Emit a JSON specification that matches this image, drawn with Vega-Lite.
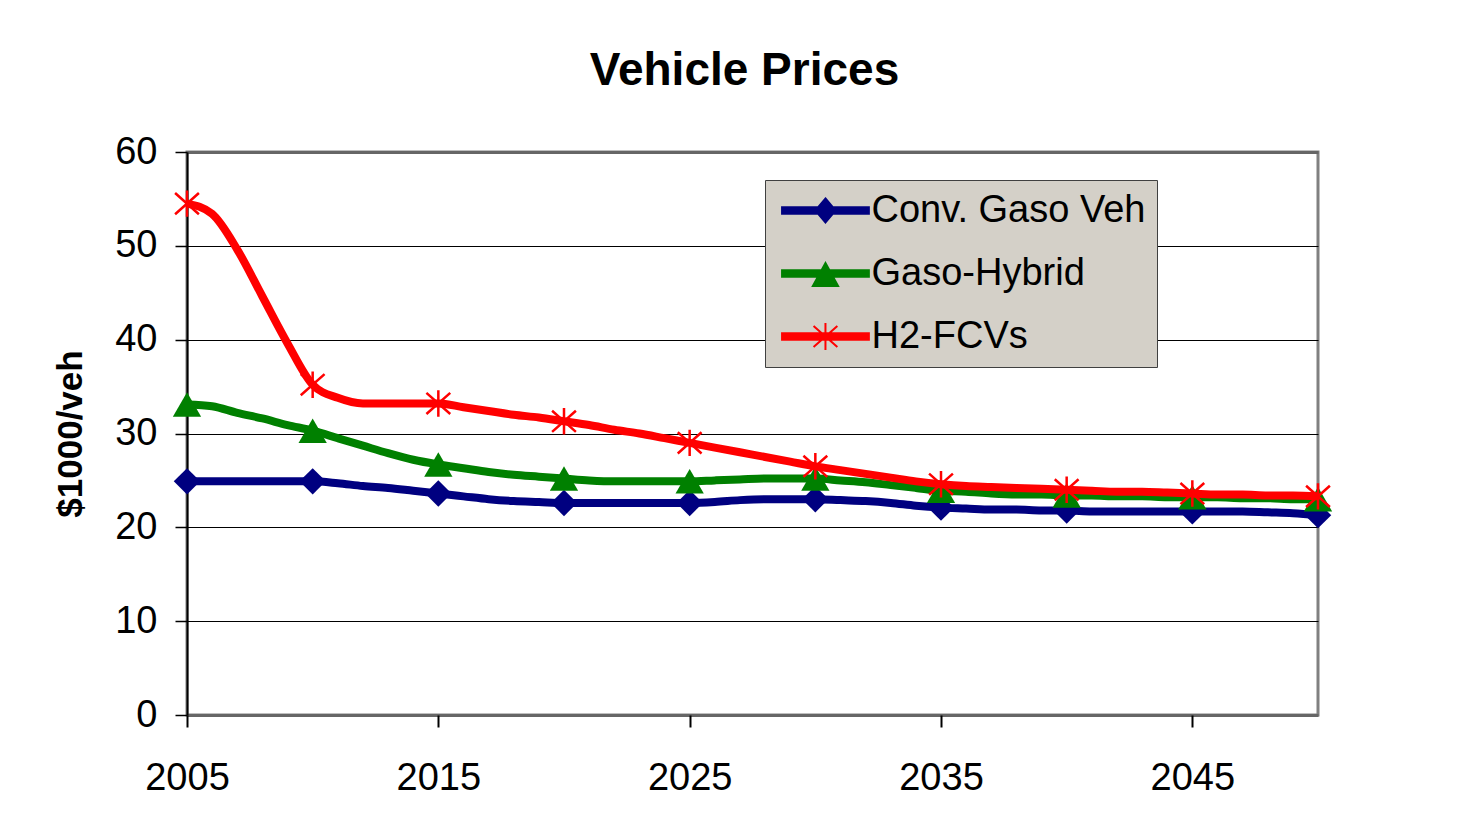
{
  "$schema": "https://vega.github.io/schema/vega-lite/v6.json",
  "autosize": "none",
  "width": 1131,
  "height": 563,
  "padding": {"left": 187, "top": 152, "right": 152, "bottom": 122},
  "background": "#ffffff",
  "title": {"text": "Vehicle Prices", "font": "Liberation Sans", "fontSize": 46, "fontWeight": "bold", "color": "#000000", "anchor": "middle", "frame": "group", "baseline": "alphabetic", "offset": 2, "dx": -8},
  "config": {
    "view": {"stroke": "#808080", "strokeWidth": 3},
    "axis": {"labelFont": "Liberation Sans", "titleFont": "Liberation Sans", "labelColor": "#000000", "titleColor": "#000000"}
  },
  "data": {"values": [
    {"year":2005,"series":"Conv. Gaso Veh","price":24.9},{"year":2006,"series":"Conv. Gaso Veh","price":24.9},{"year":2007,"series":"Conv. Gaso Veh","price":24.9},{"year":2008,"series":"Conv. Gaso Veh","price":24.9},{"year":2009,"series":"Conv. Gaso Veh","price":24.9},{"year":2010,"series":"Conv. Gaso Veh","price":24.9},
    {"year":2011,"series":"Conv. Gaso Veh","price":24.7},{"year":2012,"series":"Conv. Gaso Veh","price":24.4},{"year":2013,"series":"Conv. Gaso Veh","price":24.2},{"year":2014,"series":"Conv. Gaso Veh","price":23.9},{"year":2015,"series":"Conv. Gaso Veh","price":23.6},
    {"year":2016,"series":"Conv. Gaso Veh","price":23.3},{"year":2017,"series":"Conv. Gaso Veh","price":23.0},{"year":2018,"series":"Conv. Gaso Veh","price":22.8},{"year":2019,"series":"Conv. Gaso Veh","price":22.7},{"year":2020,"series":"Conv. Gaso Veh","price":22.6},
    {"year":2021,"series":"Conv. Gaso Veh","price":22.6},{"year":2022,"series":"Conv. Gaso Veh","price":22.6},{"year":2023,"series":"Conv. Gaso Veh","price":22.6},{"year":2024,"series":"Conv. Gaso Veh","price":22.6},{"year":2025,"series":"Conv. Gaso Veh","price":22.6},
    {"year":2026,"series":"Conv. Gaso Veh","price":22.7},{"year":2027,"series":"Conv. Gaso Veh","price":22.9},{"year":2028,"series":"Conv. Gaso Veh","price":23.0},{"year":2029,"series":"Conv. Gaso Veh","price":23.0},{"year":2030,"series":"Conv. Gaso Veh","price":23.0},
    {"year":2031,"series":"Conv. Gaso Veh","price":22.9},{"year":2032,"series":"Conv. Gaso Veh","price":22.8},{"year":2033,"series":"Conv. Gaso Veh","price":22.6},{"year":2034,"series":"Conv. Gaso Veh","price":22.3},{"year":2035,"series":"Conv. Gaso Veh","price":22.1},
    {"year":2036,"series":"Conv. Gaso Veh","price":22.0},{"year":2037,"series":"Conv. Gaso Veh","price":21.9},{"year":2038,"series":"Conv. Gaso Veh","price":21.9},{"year":2039,"series":"Conv. Gaso Veh","price":21.8},{"year":2040,"series":"Conv. Gaso Veh","price":21.8},
    {"year":2041,"series":"Conv. Gaso Veh","price":21.7},{"year":2042,"series":"Conv. Gaso Veh","price":21.7},{"year":2043,"series":"Conv. Gaso Veh","price":21.7},{"year":2044,"series":"Conv. Gaso Veh","price":21.7},{"year":2045,"series":"Conv. Gaso Veh","price":21.7},
    {"year":2046,"series":"Conv. Gaso Veh","price":21.7},{"year":2047,"series":"Conv. Gaso Veh","price":21.7},{"year":2048,"series":"Conv. Gaso Veh","price":21.6},{"year":2049,"series":"Conv. Gaso Veh","price":21.5},{"year":2050,"series":"Conv. Gaso Veh","price":21.3},

    {"year":2005,"series":"Gaso-Hybrid","price":33.1},{"year":2006,"series":"Gaso-Hybrid","price":32.9},{"year":2007,"series":"Gaso-Hybrid","price":32.2},{"year":2008,"series":"Gaso-Hybrid","price":31.6},{"year":2009,"series":"Gaso-Hybrid","price":30.9},{"year":2010,"series":"Gaso-Hybrid","price":30.3},
    {"year":2011,"series":"Gaso-Hybrid","price":29.5},{"year":2012,"series":"Gaso-Hybrid","price":28.7},{"year":2013,"series":"Gaso-Hybrid","price":27.9},{"year":2014,"series":"Gaso-Hybrid","price":27.2},{"year":2015,"series":"Gaso-Hybrid","price":26.7},
    {"year":2016,"series":"Gaso-Hybrid","price":26.3},{"year":2017,"series":"Gaso-Hybrid","price":25.9},{"year":2018,"series":"Gaso-Hybrid","price":25.6},{"year":2019,"series":"Gaso-Hybrid","price":25.4},{"year":2020,"series":"Gaso-Hybrid","price":25.2},
    {"year":2021,"series":"Gaso-Hybrid","price":25.0},{"year":2022,"series":"Gaso-Hybrid","price":24.9},{"year":2023,"series":"Gaso-Hybrid","price":24.9},{"year":2024,"series":"Gaso-Hybrid","price":24.9},{"year":2025,"series":"Gaso-Hybrid","price":24.9},
    {"year":2026,"series":"Gaso-Hybrid","price":25.0},{"year":2027,"series":"Gaso-Hybrid","price":25.1},{"year":2028,"series":"Gaso-Hybrid","price":25.2},{"year":2029,"series":"Gaso-Hybrid","price":25.2},{"year":2030,"series":"Gaso-Hybrid","price":25.2},
    {"year":2031,"series":"Gaso-Hybrid","price":25.0},{"year":2032,"series":"Gaso-Hybrid","price":24.8},{"year":2033,"series":"Gaso-Hybrid","price":24.5},{"year":2034,"series":"Gaso-Hybrid","price":24.2},{"year":2035,"series":"Gaso-Hybrid","price":23.9},
    {"year":2036,"series":"Gaso-Hybrid","price":23.8},{"year":2037,"series":"Gaso-Hybrid","price":23.6},{"year":2038,"series":"Gaso-Hybrid","price":23.5},{"year":2039,"series":"Gaso-Hybrid","price":23.5},{"year":2040,"series":"Gaso-Hybrid","price":23.4},
    {"year":2041,"series":"Gaso-Hybrid","price":23.4},{"year":2042,"series":"Gaso-Hybrid","price":23.3},{"year":2043,"series":"Gaso-Hybrid","price":23.3},{"year":2044,"series":"Gaso-Hybrid","price":23.2},{"year":2045,"series":"Gaso-Hybrid","price":23.2},
    {"year":2046,"series":"Gaso-Hybrid","price":23.2},{"year":2047,"series":"Gaso-Hybrid","price":23.1},{"year":2048,"series":"Gaso-Hybrid","price":23.1},{"year":2049,"series":"Gaso-Hybrid","price":23.0},{"year":2050,"series":"Gaso-Hybrid","price":23.0},

    {"year":2005,"series":"H2-FCVs","price":54.5},{"year":2006,"series":"H2-FCVs","price":53.4},{"year":2007,"series":"H2-FCVs","price":49.6},{"year":2008,"series":"H2-FCVs","price":44.6},{"year":2009,"series":"H2-FCVs","price":39.6},{"year":2010,"series":"H2-FCVs","price":35.2},
    {"year":2011,"series":"H2-FCVs","price":33.8},{"year":2012,"series":"H2-FCVs","price":33.2},{"year":2013,"series":"H2-FCVs","price":33.2},{"year":2014,"series":"H2-FCVs","price":33.2},{"year":2015,"series":"H2-FCVs","price":33.2},
    {"year":2016,"series":"H2-FCVs","price":32.8},{"year":2017,"series":"H2-FCVs","price":32.4},{"year":2018,"series":"H2-FCVs","price":32.0},{"year":2019,"series":"H2-FCVs","price":31.7},{"year":2020,"series":"H2-FCVs","price":31.3},
    {"year":2021,"series":"H2-FCVs","price":30.9},{"year":2022,"series":"H2-FCVs","price":30.4},{"year":2023,"series":"H2-FCVs","price":30.0},{"year":2024,"series":"H2-FCVs","price":29.5},{"year":2025,"series":"H2-FCVs","price":29.0},
    {"year":2026,"series":"H2-FCVs","price":28.5},{"year":2027,"series":"H2-FCVs","price":28.0},{"year":2028,"series":"H2-FCVs","price":27.5},{"year":2029,"series":"H2-FCVs","price":27.0},{"year":2030,"series":"H2-FCVs","price":26.5},
    {"year":2031,"series":"H2-FCVs","price":26.1},{"year":2032,"series":"H2-FCVs","price":25.7},{"year":2033,"series":"H2-FCVs","price":25.3},{"year":2034,"series":"H2-FCVs","price":24.9},{"year":2035,"series":"H2-FCVs","price":24.6},
    {"year":2036,"series":"H2-FCVs","price":24.4},{"year":2037,"series":"H2-FCVs","price":24.3},{"year":2038,"series":"H2-FCVs","price":24.2},{"year":2039,"series":"H2-FCVs","price":24.1},{"year":2040,"series":"H2-FCVs","price":24.0},
    {"year":2041,"series":"H2-FCVs","price":23.9},{"year":2042,"series":"H2-FCVs","price":23.8},{"year":2043,"series":"H2-FCVs","price":23.8},{"year":2044,"series":"H2-FCVs","price":23.7},{"year":2045,"series":"H2-FCVs","price":23.6},
    {"year":2046,"series":"H2-FCVs","price":23.5},{"year":2047,"series":"H2-FCVs","price":23.5},{"year":2048,"series":"H2-FCVs","price":23.4},{"year":2049,"series":"H2-FCVs","price":23.4},{"year":2050,"series":"H2-FCVs","price":23.3}
  ]},
  "encoding": {
    "x": {"field": "year", "type": "quantitative",
      "scale": {"domain": [2005, 2050], "nice": false, "zero": false},
      "axis": {"title": null, "values": [2005, 2015, 2025, 2035, 2045], "format": "d", "domain": false, "grid": false,
        "tickColor": "#000000", "tickSize": 12, "tickWidth": 2, "labelFontSize": 38, "labelPadding": 32, "labelFlush": false}},
    "y": {"field": "price", "type": "quantitative",
      "scale": {"domain": [0, 60], "nice": false},
      "axis": {"title": "$1000/veh", "titleFontSize": 35, "titleFontWeight": "bold", "titlePadding": 26,
        "values": [0, 10, 20, 30, 40, 50, 60], "domainColor": "#000000", "domainWidth": 2,
        "tickColor": "#000000", "tickSize": 12, "tickWidth": 1.5, "labelFontSize": 38, "labelPadding": 18,
        "gridColor": {"condition": {"test": "datum.value === 60 || datum.value === 0", "value": "#666666"}, "value": "#000000"},
        "gridWidth": {"condition": {"test": "datum.value === 60 || datum.value === 0", "value": 3}, "value": 1},
        "gridOpacity": 1}},
    "color": {"field": "series", "type": "nominal",
      "scale": {"domain": ["Conv. Gaso Veh", "Gaso-Hybrid", "H2-FCVs"], "range": ["#000080", "#008000", "#FF0000"]},
      "legend": {
        "title": null, "orient": "none", "legendX": 578, "legendY": 28,
        "fillColor": "#D4D0C8", "strokeColor": "#404040", "padding": 11.5,
        "symbolSize": 784, "symbolStrokeWidth": 2,
        "labelFont": "Liberation Sans", "labelFontSize": 38, "labelColor": "#000000", "labelLimit": 500,
        "labelOffset": 57, "rowPadding": 25,
        "encode": {"symbols": {"update": {
          "shape": {"signal": "datum.value === 'Conv. Gaso Veh' ? 'M-0.96,-0.23H5.24V0.23H-0.96ZM2.14,-0.86L2.86,0L2.14,0.86L1.42,0Z' : datum.value === 'Gaso-Hybrid' ? 'M-0.96,-0.23H5.24V0.23H-0.96ZM2.14,-0.75L3.04,0.9L1.24,0.9Z' : 'M-0.96,-0.23H5.24V0.23H-0.96ZM2.14,-0.96V0.96M1.29,-0.75L2.99,0.75M1.29,0.75L2.99,-0.75'"},
          "fill": {"signal": "datum.value === 'Conv. Gaso Veh' ? '#000080' : datum.value === 'Gaso-Hybrid' ? '#008000' : '#FF0000'"},
          "stroke": {"signal": "datum.value === 'Conv. Gaso Veh' ? '#000080' : datum.value === 'Gaso-Hybrid' ? '#008000' : '#FF0000'"},
          "strokeWidth": {"value": 2},
          "opacity": {"value": 1}
        }}}
      }}
  },
  "layer": [
    {"transform": [{"filter": "datum.series === 'Conv. Gaso Veh'"}],
     "mark": {"type": "line", "strokeWidth": 8, "interpolate": "monotone"}},
    {"transform": [{"filter": "datum.series === 'Conv. Gaso Veh' && datum.year % 5 === 0"}],
     "mark": {"type": "point", "shape": "diamond", "filled": true, "size": 700, "opacity": 1}},
    {"transform": [{"filter": "datum.series === 'Gaso-Hybrid'"}],
     "mark": {"type": "line", "strokeWidth": 8, "interpolate": "monotone"}},
    {"transform": [{"filter": "datum.series === 'Gaso-Hybrid' && datum.year % 5 === 0"}],
     "mark": {"type": "point", "shape": "triangle-up", "filled": true, "size": 800, "opacity": 1}},
    {"transform": [{"filter": "datum.series === 'H2-FCVs'"}],
     "mark": {"type": "line", "strokeWidth": 8, "interpolate": "monotone"}},
    {"transform": [{"filter": "datum.series === 'H2-FCVs' && datum.year % 5 === 0"}],
     "mark": {"type": "point", "shape": "M0,-1V1M-0.9,-0.8L0.9,0.8M-0.9,0.8L0.9,-0.8", "filled": false, "strokeWidth": 2.5, "size": 700, "opacity": 1}}
  ]
}
